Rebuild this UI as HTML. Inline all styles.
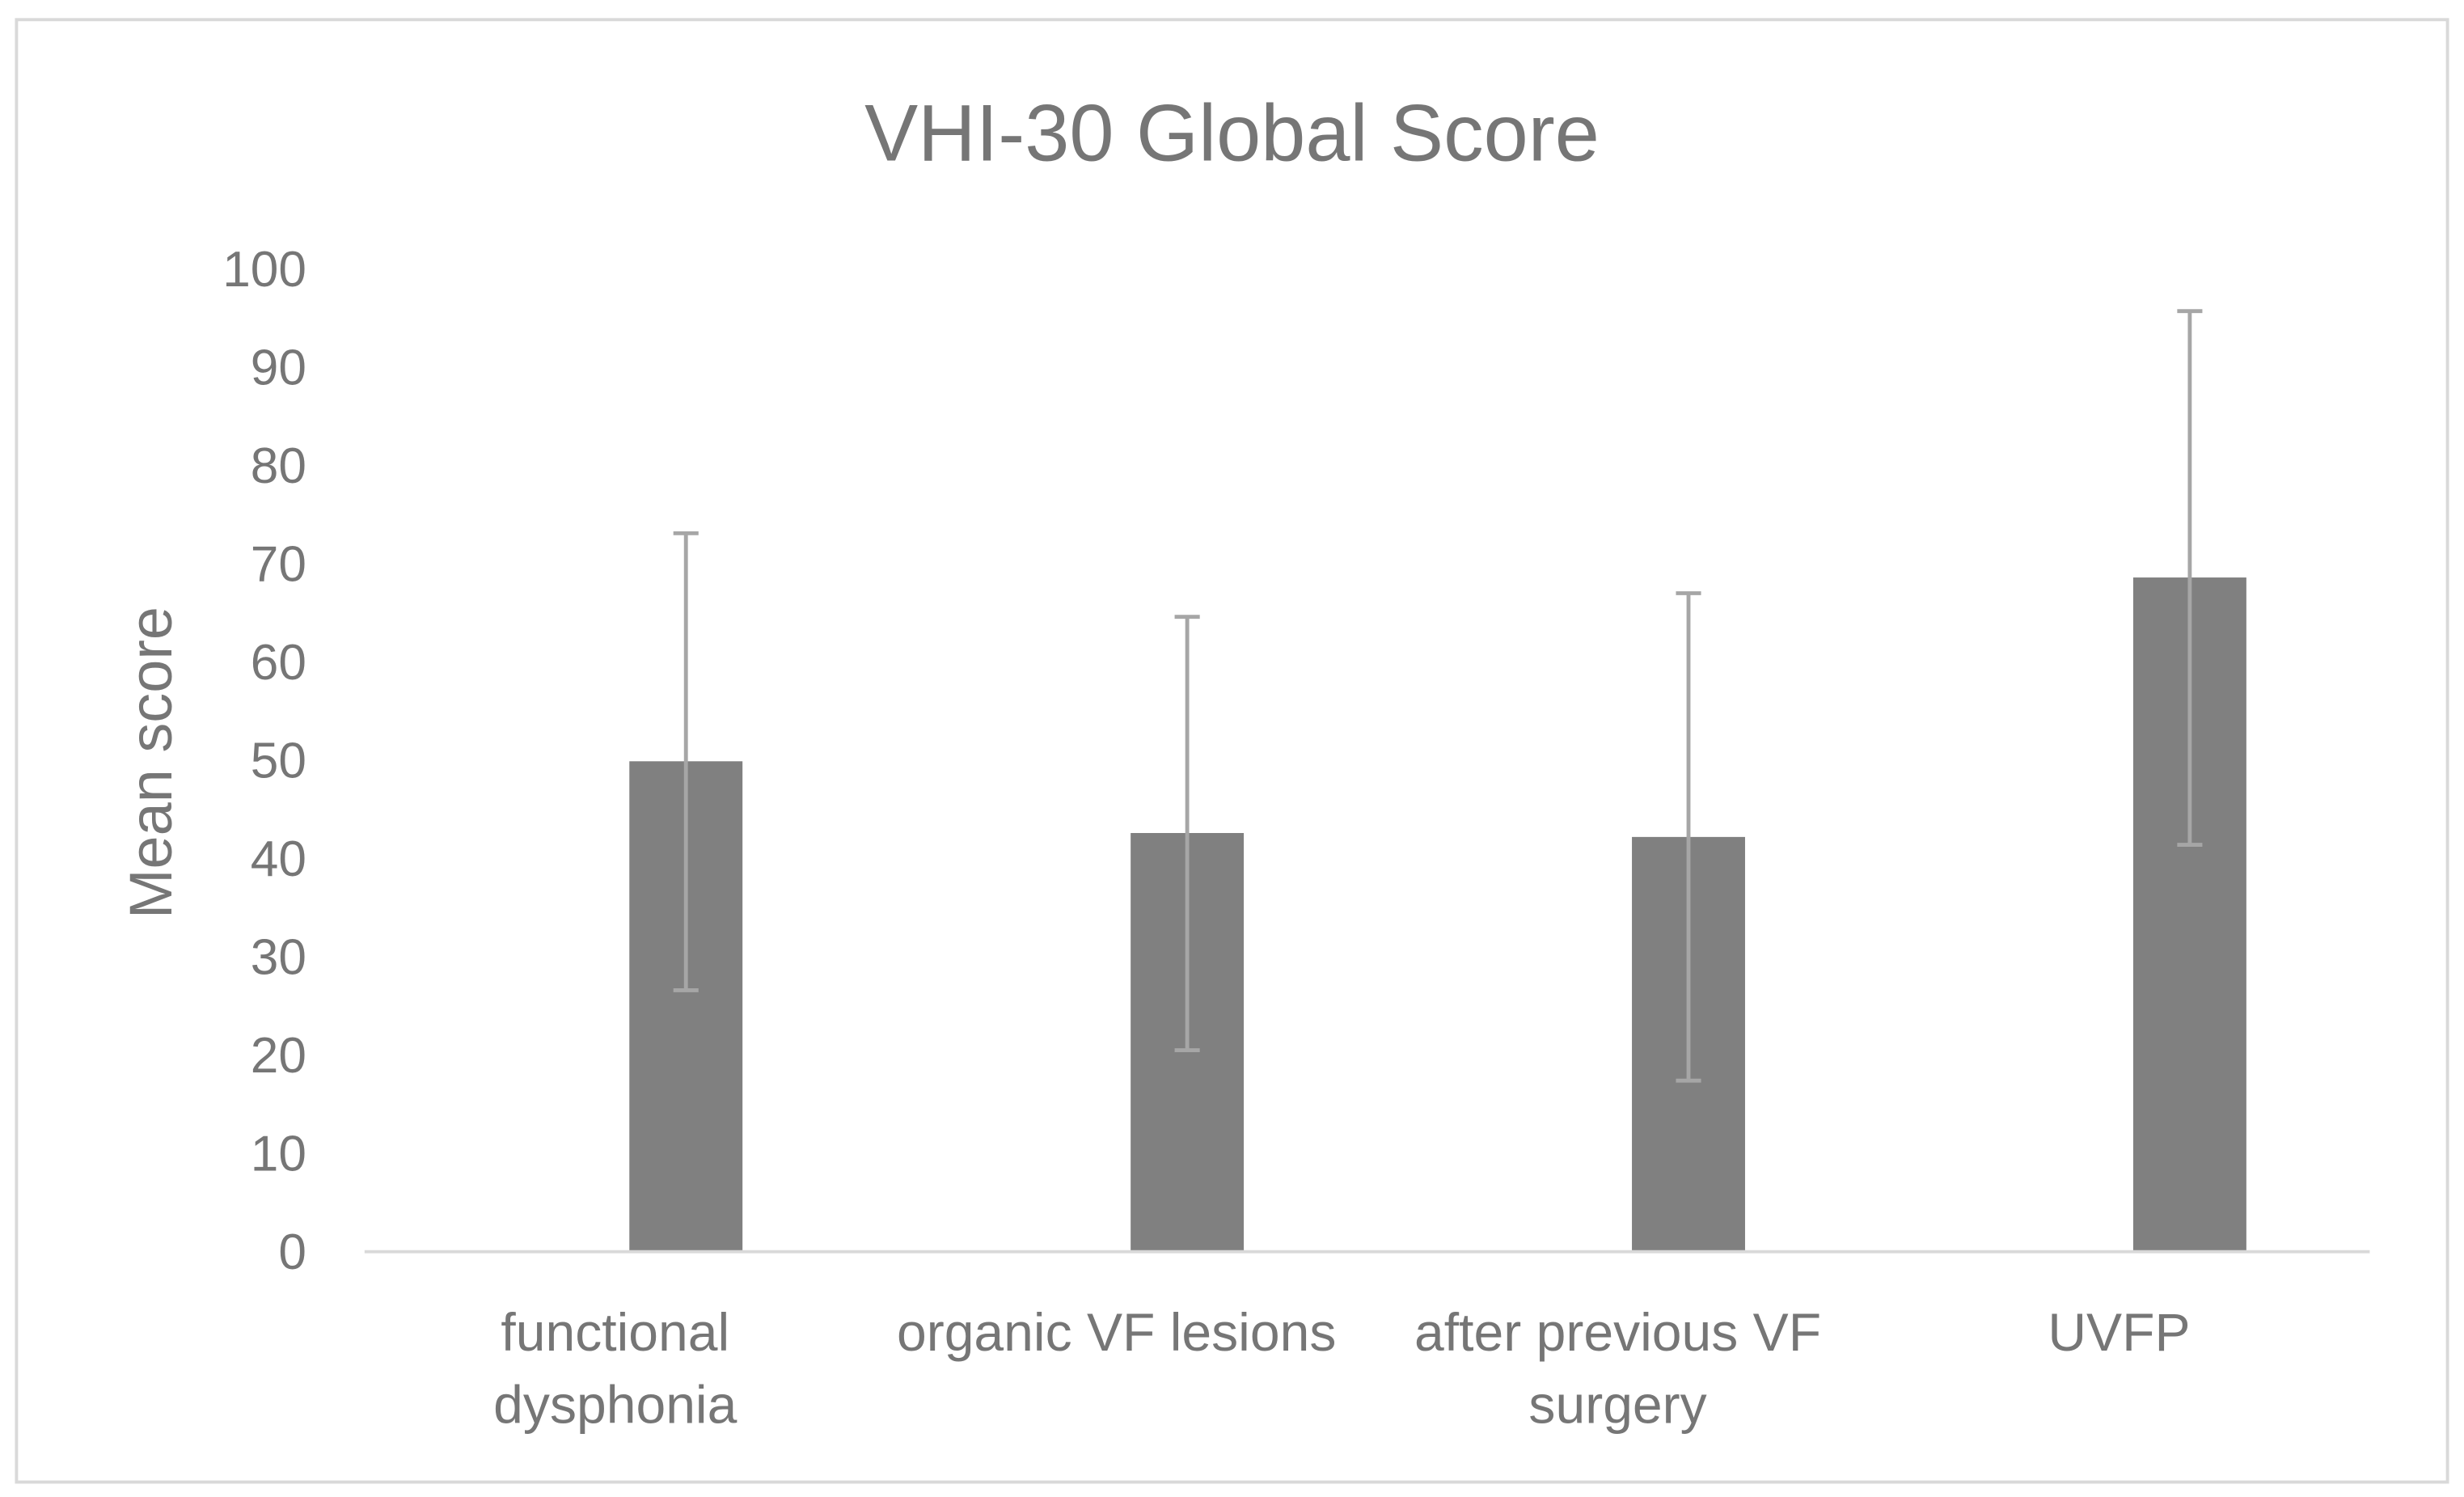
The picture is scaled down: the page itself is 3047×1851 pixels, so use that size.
<!DOCTYPE html>
<html><head><meta charset="utf-8"><style>
html,body{margin:0;padding:0;background:#fff;}
svg{display:block;}
text{font-family:"Liberation Sans",sans-serif;fill:#767676;}
</style></head><body>
<svg id="chart" width="3047" height="1851" viewBox="0 0 1568 952" preserveAspectRatio="none" xmlns="http://www.w3.org/2000/svg">
<rect x="10.5" y="12.5" width="1547" height="930" fill="#fff" stroke="#d9d9d9" stroke-width="2"/>
<text x="784" y="102" font-size="51" text-anchor="middle">VHI-30 Global Score</text>
<text transform="translate(109,485) rotate(-90)" font-size="38" text-anchor="middle">Mean score</text>
<g id="yticks"></g><g id="bars"></g><g id="errs"></g><g id="xlabels"></g>
<line x1="232" y1="796" x2="1508" y2="796" stroke="#d9d9d9" stroke-width="2"/>
</svg>
<script>
const categories=[["functional","dysphonia"],["organic VF lesions"],["after previous VF","surgery"],["UVFP"]];
const means=[49.9,42.6,42.2,68.6];
const errHigh=[73.1,64.6,67.0,95.7];
const errLow=[26.6,20.5,17.4,41.4];
const yTicks=[0,10,20,30,40,50,60,70,80,90,100];
const NS="http://www.w3.org/2000/svg";
const x0=232,x1=1508,y0=796,y100=171;
const y=v=>y0-(v/100)*(y0-y100);
const cw=(x1-x0)/categories.length;
const catC=i=>x0+cw*(i+0.5);
const barC=i=>catC(i)+45;
function mk(t,a,p){const e=document.createElementNS(NS,t);for(const k in a)e.setAttribute(k,a[k]);document.getElementById(p).appendChild(e);return e;}
yTicks.forEach(v=>{const t=mk('text',{x:195,y:y(v)+11,'font-size':32,'text-anchor':'end'},'yticks');


t.textContent=v;});
means.forEach((m,i)=>{const r=mk('rect',{x:barC(i)-36,y:y(m),width:72,height:y0-y(m),fill:'#808080'},'bars');


const g=mk('g',{stroke:'#a6a6a6','stroke-width':2.5},'errs');


const c=barC(i);
[[c,y(errLow[i]),c,y(errHigh[i])],[c-8,y(errHigh[i]),c+8,y(errHigh[i])],[c-8,y(errLow[i]),c+8,y(errLow[i])]].forEach(l=>{
const ln=document.createElementNS(NS,'line');ln.setAttribute('x1',l[0]);ln.setAttribute('y1',l[1]);ln.setAttribute('x2',l[2]);ln.setAttribute('y2',l[3]);g.appendChild(ln);});
const t=mk('text',{'font-size':34,'text-anchor':'middle'},'xlabels');


categories[i].forEach((s,j)=>{const ts=document.createElementNS(NS,'tspan');ts.setAttribute('x',catC(i));ts.setAttribute('y',859+46*j);ts.textContent=s;t.appendChild(ts);});
});
</script>
</body></html>
